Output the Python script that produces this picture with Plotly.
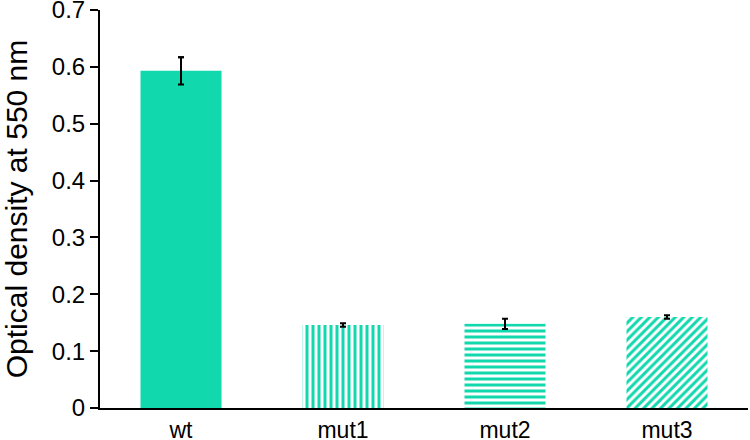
import plotly.graph_objects as go

# data
categories = ["wt", "mut1", "mut2", "mut3"]
od_values = [0.593, 0.146, 0.148, 0.160]
od_errors = [0.024, 0.003, 0.009, 0.003]
patterns = ["", "|", "-", "/"]
y_ticks = [0, 0.1, 0.2, 0.3, 0.4, 0.5, 0.6, 0.7]
y_tick_labels = ["0", "0.1", "0.2", "0.3", "0.4", "0.5", "0.6", "0.7"]

teal = "#12d8ad"

fig = go.Figure()

fig.add_trace(go.Bar(
    x=categories,
    y=od_values,
    width=0.5,
    marker=dict(
        color="white",
        line=dict(width=0),
        pattern=dict(
            shape=patterns,
            fgcolor=teal,
            bgcolor="white",
            size=6,
            solidity=0.5,
            fillmode="replace",
        ),
    ),
    error_y=dict(type="data", array=od_errors, color="black", thickness=2, width=3),
))

# the wt bar is solid, so overlay a plain fill for it
fig.add_trace(go.Bar(
    x=categories[:1],
    y=od_values[:1],
    width=0.5,
    marker=dict(color=teal, line=dict(width=0)),
    error_y=dict(type="data", array=od_errors[:1], color="black", thickness=2, width=3),
))

fig.update_layout(
    width=750,
    height=440,
    margin=dict(l=100, r=2, t=10, b=32),
    plot_bgcolor="white",
    paper_bgcolor="white",
    showlegend=False,
    barmode="overlay",
    font=dict(family="Liberation Sans, Arial, sans-serif", size=24, color="black"),
)

fig.update_xaxes(
    showline=True,
    linecolor="black",
    linewidth=2,
    ticks="",
    showgrid=False,
    automargin=False,
    ticklabeloverflow="allow",
    tickfont=dict(size=23),
)

fig.update_yaxes(
    range=[0, 0.7],
    tickvals=y_ticks,
    ticktext=y_tick_labels,
    showline=True,
    linecolor="black",
    linewidth=2,
    ticks="outside",
    ticklen=8,
    tickwidth=2,
    tickcolor="black",
    showgrid=False,
    zeroline=False,
    automargin=False,
    ticklabeloverflow="allow",
    title=dict(text="Optical density at 550 nm", font=dict(size=30), standoff=18),
    tickfont=dict(size=24),
)

fig.write_html(
    "out.html",
    config={"displayModeBar": False},
    post_script="document.body.style.margin='0';",
)
